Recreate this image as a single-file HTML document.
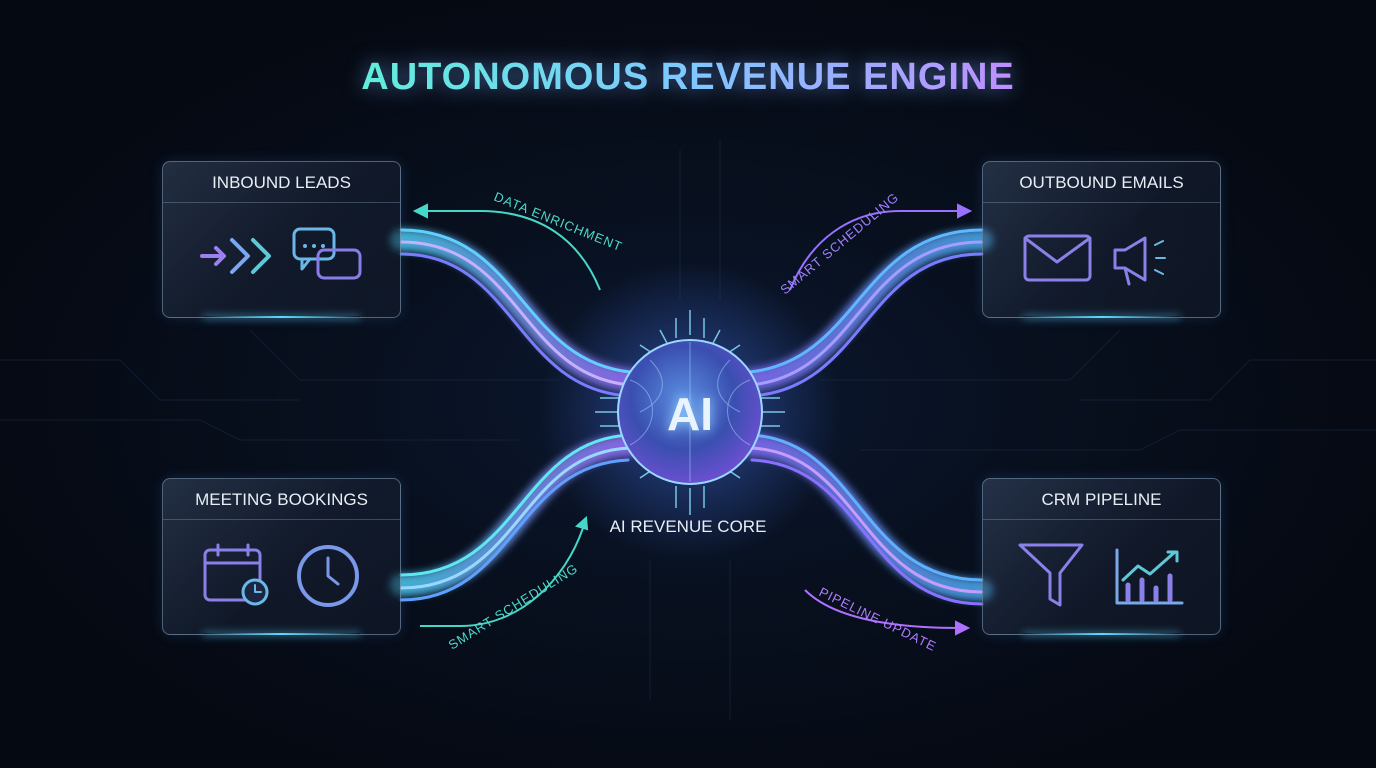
<!DOCTYPE html>
<html><head><meta charset="utf-8"><style>
html,body{margin:0;padding:0;background:#060b16;}
#c{position:relative;width:1376px;height:768px;overflow:hidden;background:radial-gradient(ellipse at 50% 52%,#0c1830 0%,#08101f 35%,#050912 75%);font-family:"Liberation Sans",sans-serif;}
.title{position:absolute;left:0;width:1376px;top:56px;text-align:center;font-size:38px;font-weight:bold;letter-spacing:1px;background:linear-gradient(90deg,#5ff0d8 25%,#7fc8ff 50%,#c28cff 75%);-webkit-background-clip:text;color:transparent;filter:drop-shadow(0 0 10px rgba(120,170,255,.6));}
.box{position:absolute;width:237px;height:155px;border:1.5px solid rgba(160,190,220,.45);border-radius:8px;background:linear-gradient(135deg,rgba(70,90,120,.45),rgba(25,35,55,.55) 55%,rgba(20,28,45,.6));box-shadow:0 0 14px rgba(90,160,255,.15);}
.box .h{height:40px;border-bottom:1px solid rgba(160,190,220,.3);color:#e8eef5;font-size:17px;text-align:center;line-height:42px;}
.box .g{position:absolute;left:40px;right:40px;bottom:-1px;height:2px;background:linear-gradient(90deg,transparent,#5fd8ff,transparent);box-shadow:0 0 8px #5fd8ff;}
svg{position:absolute;left:0;top:0;}
</style></head><body><div id="c">
<svg width="1376" height="768">
<defs>
<linearGradient id="gl" x1="0" x2="1"><stop offset="0" stop-color="#4fd8ff"/><stop offset="1" stop-color="#a070ff"/></linearGradient>
<linearGradient id="gr" x1="1" x2="0"><stop offset="0" stop-color="#4fb8ff"/><stop offset="1" stop-color="#8a70ff"/></linearGradient>
<radialGradient id="sp" cx="45%" cy="40%" r="60%"><stop offset="0" stop-color="#5a8ce0"/><stop offset=".6" stop-color="#3a4fb0"/><stop offset="1" stop-color="#6a4fd0"/></radialGradient>
<radialGradient id="halo"><stop offset="0" stop-color="#4a7cff" stop-opacity=".5"/><stop offset="1" stop-color="#4a7cff" stop-opacity="0"/></radialGradient>
<filter id="bl"><feGaussianBlur stdDeviation="4"/></filter>
</defs>
<g stroke="#16263d" stroke-width="1" fill="none" opacity=".7">
<path d="M0 360 H120 L160 400 H300"/><path d="M0 420 H200 L240 440 H520"/><path d="M1376 360 H1250 L1210 400 H1080"/><path d="M1376 430 H1180 L1140 450 H860"/>
<path d="M250 330 L300 380 H560"/><path d="M1120 330 L1070 380 H820"/><path d="M680 150 V300"/><path d="M720 140 V300"/><path d="M650 560 V700"/><path d="M730 560 V720"/>
</g>
<circle cx="690" cy="412" r="150" fill="url(#halo)"/>
<g fill="none" stroke-linecap="round">
<g filter="url(#bl)" opacity=".8">
<path d="M401 240 C520 240,520 370,630 380" stroke="url(#gl)" stroke-width="22"/>
<path d="M401 585 C520 585,520 450,630 445" stroke="url(#gl)" stroke-width="22"/>
<path d="M982 240 C860 240,860 370,750 380" stroke="url(#gr)" stroke-width="22"/>
<path d="M982 590 C860 590,860 450,750 445" stroke="url(#gr)" stroke-width="22"/>
</g>
<path d="M401 230 C520 230,520 360,630 372" stroke="#5fd0ff" stroke-width="3"/>
<path d="M401 242 C520 242,520 375,630 385" stroke="#c8b0ff" stroke-width="3"/>
<path d="M401 254 C515 254,515 388,628 396" stroke="#7a7cff" stroke-width="3"/>
<path d="M401 575 C520 575,520 440,630 435" stroke="#5fe8f0" stroke-width="3"/>
<path d="M401 588 C520 588,520 452,630 448" stroke="#9ad8ff" stroke-width="3"/>
<path d="M401 600 C515 600,515 465,628 460" stroke="#5fa0ff" stroke-width="3"/>
<path d="M982 230 C860 230,860 360,750 372" stroke="#5fb8ff" stroke-width="3"/>
<path d="M982 242 C860 242,860 375,750 385" stroke="#a89cff" stroke-width="3"/>
<path d="M982 254 C865 254,865 388,752 396" stroke="#7a7cff" stroke-width="3"/>
<path d="M982 580 C860 580,860 440,750 435" stroke="#5fb0ff" stroke-width="3"/>
<path d="M982 592 C860 592,860 452,750 448" stroke="#c89cff" stroke-width="3"/>
<path d="M982 604 C865 604,865 465,752 460" stroke="#8a70ff" stroke-width="3"/>
</g>
<g fill="none" stroke-width="2">
<path d="M418 211 H480 C540 211,580 240,600 290" stroke="#45d8c8"/>
<path d="M415 211 l12 -6 v12 z" fill="#45d8c8" stroke="#45d8c8"/>
<path d="M790 290 C810 240,850 211,900 211 H962" stroke="#9a70ff"/>
<path d="M970 211 l-12 -6 v12 z" fill="#9a70ff" stroke="#9a70ff"/>
<path d="M420 626 H460 C520 626,565 580,583 528" stroke="#45d8c8"/>
<path d="M586 518 l-9 8 l10 3 z" fill="#45d8c8" stroke="#45d8c8"/>
<path d="M805 590 C830 615,880 628,960 628" stroke="#b070ff"/>
<path d="M968 628 l-12 -6 v12 z" fill="#b070ff" stroke="#b070ff"/>
</g>
<g font-size="13" letter-spacing="1">
<text x="0" y="0" fill="#4fd8c8" transform="translate(493 200) rotate(22)">DATA ENRICHMENT</text>
<text fill="#a080ff" transform="translate(785 295) rotate(-40)">SMART SCHEDULING</text>
<text fill="#4fd8c8" transform="translate(452 650) rotate(-32)">SMART SCHEDULING</text>
<text fill="#b07cff" transform="translate(818 595) rotate(26)">PIPELINE UPDATE</text>
</g>
<g stroke="#8ae0ff" stroke-width="1.5" opacity=".85">
<path d="M690 310 V335 M676 318 V338 M704 318 V338 M660 330 L668 345 M720 330 L712 345 M640 345 L655 355 M740 345 L725 355 M595 412 H620 M600 398 H622 M600 426 H622 M785 412 H760 M780 398 H758 M780 426 H758 M690 515 V488 M676 508 V486 M704 508 V486 M640 478 L655 468 M740 478 L725 468"/>
</g>
<circle cx="690" cy="412" r="72" fill="url(#sp)" stroke="#9ad8ff" stroke-width="2"/>
<g stroke="#a8d8ff" stroke-width="1" fill="none" opacity=".5">
<path d="M690 342 V482"/><path d="M630 380 C660 390,660 430,630 445"/><path d="M750 380 C720 390,720 430,750 445"/><path d="M650 360 C670 380,665 400,640 412"/><path d="M730 360 C710 380,715 400,740 412"/>
</g>
<text x="690" y="430" text-anchor="middle" font-size="46" font-weight="bold" fill="#eaf4ff" style="filter:drop-shadow(0 0 6px #9ad8ff)">AI</text>
<text x="688" y="532" text-anchor="middle" font-size="17" fill="#e8eef5">AI REVENUE CORE</text>
</svg>
<div class="title">AUTONOMOUS REVENUE ENGINE</div>
<div class="box" style="left:162px;top:161px"><div class="h">INBOUND LEADS</div><div class="g"></div></div>
<div class="box" style="left:982px;top:161px"><div class="h">OUTBOUND EMAILS</div><div class="g"></div></div>
<div class="box" style="left:162px;top:478px"><div class="h">MEETING BOOKINGS</div><div class="g"></div></div>
<div class="box" style="left:982px;top:478px"><div class="h">CRM PIPELINE</div><div class="g"></div></div>
<svg width="1376" height="768" fill="none" stroke-width="4" stroke-linecap="round" stroke-linejoin="round">
<path d="M202 256 H222 M216 248 l8 8 l-8 8" stroke="#9a80f0"/><path d="M232 240 l16 16 l-16 16" stroke="#7aa8f0"/><path d="M253 240 l16 16 l-16 16" stroke="#5fc8d8"/>
<rect x="294" y="229" width="40" height="30" rx="6" stroke="#6ab8e8" stroke-width="3"/><path d="M302 259 v10 l8 -10" stroke="#6ab8e8" stroke-width="3"/>
<rect x="318" y="250" width="42" height="28" rx="6" stroke="#8a7ce8" stroke-width="3"/>
<circle cx="305" cy="246" r="2" fill="#6ab8e8"/><circle cx="314" cy="246" r="2" fill="#6ab8e8"/><circle cx="323" cy="246" r="2" fill="#6ab8e8"/>
<rect x="1025" y="236" width="65" height="44" rx="4" stroke="#8a80e8" stroke-width="3"/><path d="M1025 238 l32 24 l33 -24" stroke="#8a80e8" stroke-width="3"/>
<path d="M1115 250 v18 h10 l20 12 v-42 l-20 12 z M1125 268 l4 16" stroke="#8a80e8" stroke-width="3"/><path d="M1155 245 l8 -4 M1156 258 h9 M1155 270 l8 4" stroke="#6ab8e8" stroke-width="2"/>
<rect x="205" y="550" width="55" height="50" rx="5" stroke="#8a80e8" stroke-width="3"/><path d="M205 563 h55 M218 545 v10 M248 545 v10" stroke="#8a80e8" stroke-width="3"/>
<circle cx="255" cy="592" r="12" stroke="#6ab8e8" stroke-width="3" fill="#1c2640"/><path d="M255 585 v7 h6" stroke="#6ab8e8" stroke-width="2"/>
<circle cx="328" cy="576" r="29" stroke="#7a98e8" stroke-width="4"/><path d="M328 558 v18 l10 8" stroke="#7a98e8" stroke-width="3"/>
<path d="M1020 545 h62 l-22 28 v32 l-10 -6 v-26 z" stroke="#8a80e8" stroke-width="3"/>
<path d="M1117 550 v53 h65" stroke="#7aa8e8" stroke-width="3"/><path d="M1128 600 v-15 M1142 600 v-20 M1156 600 v-12 M1170 600 v-24" stroke="#8a80e8" stroke-width="5"/>
<path d="M1123 580 l15 -14 l12 8 l25 -22" stroke="#5fc8d8" stroke-width="3"/><path d="M1168 552 h9 v9" stroke="#5fc8d8" stroke-width="3"/>
</svg>
</div></body></html>
